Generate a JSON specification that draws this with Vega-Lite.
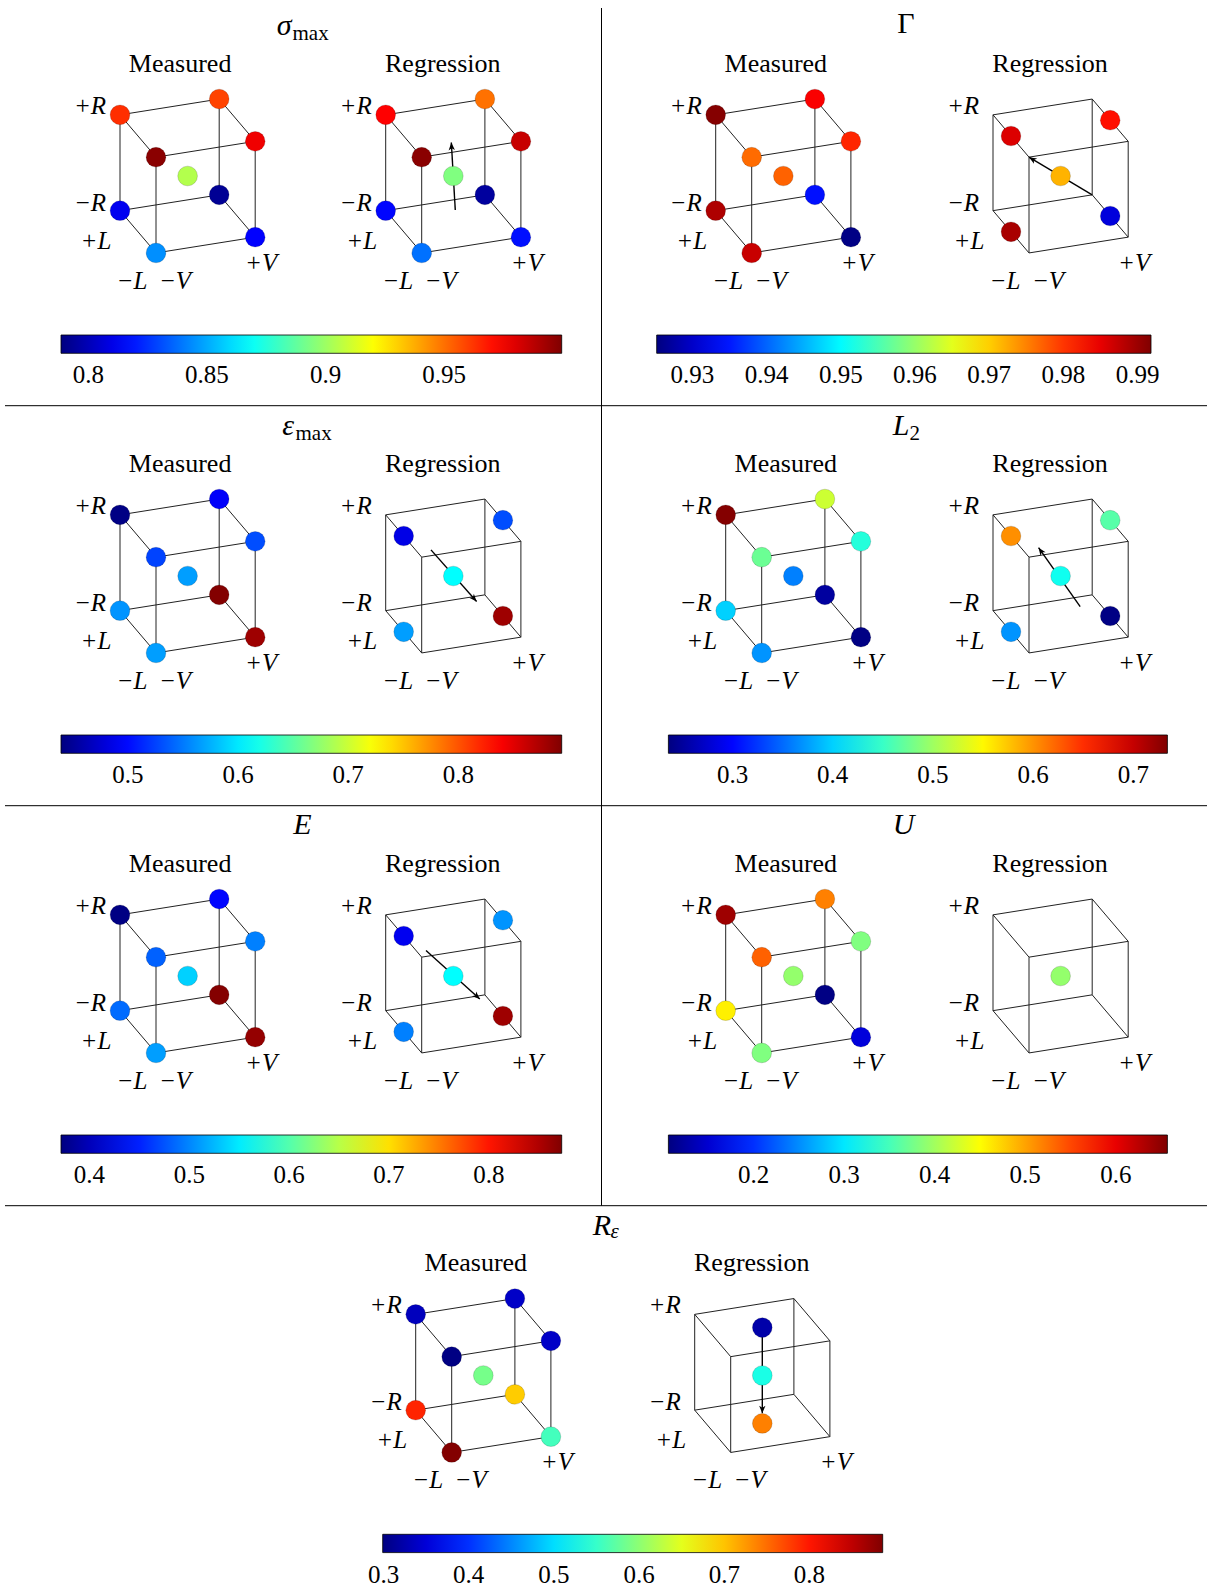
{
  "$schema": "https://vega.github.io/schema/vega-lite/v6.json",
  "background": "white",
  "padding": 0,
  "spacing": 0,
  "bounds": "flush",
  "config": {
    "view": {"stroke": null},
    "concat": {"spacing": 0},
    "legend": {
      "orient": "none",
      "direction": "horizontal",
      "gradientThickness": 18.3,
      "gradientStrokeColor": "#000",
      "gradientStrokeWidth": 0.8,
      "gradientHorizontalMaxLength": 800,
      "gradientHorizontalMinLength": 10,
      "labelFont": "Liberation Serif",
      "labelFontSize": 25,
      "labelColor": "#000",
      "labelOffset": 10,
      "labelOverlap": false,
      "labelAlign": "center",
      "padding": 0
    }
  },
  "datasets": {
    "edges": [
      {"cube": "Measured", "l0": -1, "v0": -1, "r0": -1, "l1": 1, "v1": -1, "r1": -1},
      {"cube": "Measured", "l0": -1, "v0": 1, "r0": -1, "l1": 1, "v1": 1, "r1": -1},
      {"cube": "Measured", "l0": -1, "v0": -1, "r0": 1, "l1": 1, "v1": -1, "r1": 1},
      {"cube": "Measured", "l0": -1, "v0": 1, "r0": 1, "l1": 1, "v1": 1, "r1": 1},
      {"cube": "Measured", "l0": -1, "v0": -1, "r0": -1, "l1": -1, "v1": 1, "r1": -1},
      {"cube": "Measured", "l0": 1, "v0": -1, "r0": -1, "l1": 1, "v1": 1, "r1": -1},
      {"cube": "Measured", "l0": -1, "v0": -1, "r0": 1, "l1": -1, "v1": 1, "r1": 1},
      {"cube": "Measured", "l0": 1, "v0": -1, "r0": 1, "l1": 1, "v1": 1, "r1": 1},
      {"cube": "Measured", "l0": -1, "v0": -1, "r0": -1, "l1": -1, "v1": -1, "r1": 1},
      {"cube": "Measured", "l0": -1, "v0": 1, "r0": -1, "l1": -1, "v1": 1, "r1": 1},
      {"cube": "Measured", "l0": 1, "v0": -1, "r0": -1, "l1": 1, "v1": -1, "r1": 1},
      {"cube": "Measured", "l0": 1, "v0": 1, "r0": -1, "l1": 1, "v1": 1, "r1": 1},
      {"cube": "Regression", "l0": -1, "v0": -1, "r0": -1, "l1": 1, "v1": -1, "r1": -1},
      {"cube": "Regression", "l0": -1, "v0": 1, "r0": -1, "l1": 1, "v1": 1, "r1": -1},
      {"cube": "Regression", "l0": -1, "v0": -1, "r0": 1, "l1": 1, "v1": -1, "r1": 1},
      {"cube": "Regression", "l0": -1, "v0": 1, "r0": 1, "l1": 1, "v1": 1, "r1": 1},
      {"cube": "Regression", "l0": -1, "v0": -1, "r0": -1, "l1": -1, "v1": 1, "r1": -1},
      {"cube": "Regression", "l0": 1, "v0": -1, "r0": -1, "l1": 1, "v1": 1, "r1": -1},
      {"cube": "Regression", "l0": -1, "v0": -1, "r0": 1, "l1": -1, "v1": 1, "r1": 1},
      {"cube": "Regression", "l0": 1, "v0": -1, "r0": 1, "l1": 1, "v1": 1, "r1": 1},
      {"cube": "Regression", "l0": -1, "v0": -1, "r0": -1, "l1": -1, "v1": -1, "r1": 1},
      {"cube": "Regression", "l0": -1, "v0": 1, "r0": -1, "l1": -1, "v1": 1, "r1": 1},
      {"cube": "Regression", "l0": 1, "v0": -1, "r0": -1, "l1": 1, "v1": -1, "r1": 1},
      {"cube": "Regression", "l0": 1, "v0": 1, "r0": -1, "l1": 1, "v1": 1, "r1": 1}
    ],
    "labels": [
      {"cube": "Measured", "text": "+R", "l": 1, "v": -1.605, "r": 1.288},
      {"cube": "Measured", "text": "−R", "l": 1, "v": -1.605, "r": -0.733},
      {"cube": "Measured", "text": "+L", "l": 1, "v": -1.484, "r": -1.547},
      {"cube": "Measured", "text": "−L", "l": -1, "v": -1.484, "r": -1.505},
      {"cube": "Measured", "text": "−V", "l": -1, "v": -0.617, "r": -1.648},
      {"cube": "Measured", "text": "+V", "l": -1, "v": 1.121, "r": -1.552},
      {"cube": "Regression", "text": "+R", "l": 1, "v": -1.605, "r": 1.288},
      {"cube": "Regression", "text": "−R", "l": 1, "v": -1.605, "r": -0.733},
      {"cube": "Regression", "text": "+L", "l": 1, "v": -1.484, "r": -1.547},
      {"cube": "Regression", "text": "−L", "l": -1, "v": -1.484, "r": -1.505},
      {"cube": "Regression", "text": "−V", "l": -1, "v": -0.617, "r": -1.648},
      {"cube": "Regression", "text": "+V", "l": -1, "v": 1.121, "r": -1.552}
    ],
    "subtitles": [
      {"cube": "Measured", "text": "Measured", "l": 0, "v": -0.151, "r": 2.203},
      {"cube": "Regression", "text": "Regression", "l": 0, "v": -0.212, "r": 2.212}
    ],
    "points": [
      {"panel": "smax", "cube": "Measured", "l": 1, "v": -1, "r": 1, "value": 0.9636},
      {"panel": "smax", "cube": "Measured", "l": 1, "v": 1, "r": 1, "value": 0.9594},
      {"panel": "smax", "cube": "Measured", "l": -1, "v": 1, "r": 1, "value": 0.9763},
      {"panel": "smax", "cube": "Measured", "l": -1, "v": -1, "r": 1, "value": 0.9974},
      {"panel": "smax", "cube": "Measured", "l": 0, "v": 0, "r": 0, "value": 0.9046},
      {"panel": "smax", "cube": "Measured", "l": 1, "v": -1, "r": -1, "value": 0.8117},
      {"panel": "smax", "cube": "Measured", "l": 1, "v": 1, "r": -1, "value": 0.7927},
      {"panel": "smax", "cube": "Measured", "l": -1, "v": 1, "r": -1, "value": 0.8149},
      {"panel": "smax", "cube": "Measured", "l": -1, "v": -1, "r": -1, "value": 0.8444},
      {"panel": "smax", "cube": "Regression", "l": 1, "v": -1, "r": 1, "value": 0.9731},
      {"panel": "smax", "cube": "Regression", "l": 1, "v": 1, "r": 1, "value": 0.9499},
      {"panel": "smax", "cube": "Regression", "l": -1, "v": 1, "r": 1, "value": 0.9847},
      {"panel": "smax", "cube": "Regression", "l": -1, "v": -1, "r": 1, "value": 0.9974},
      {"panel": "smax", "cube": "Regression", "l": 0, "v": 0, "r": 0, "value": 0.894},
      {"panel": "smax", "cube": "Regression", "l": 1, "v": -1, "r": -1, "value": 0.8159},
      {"panel": "smax", "cube": "Regression", "l": 1, "v": 1, "r": -1, "value": 0.7948},
      {"panel": "smax", "cube": "Regression", "l": -1, "v": 1, "r": -1, "value": 0.818},
      {"panel": "smax", "cube": "Regression", "l": -1, "v": -1, "r": -1, "value": 0.8381},

      {"panel": "gamma", "cube": "Measured", "l": 1, "v": -1, "r": 1, "value": 0.9915},
      {"panel": "gamma", "cube": "Measured", "l": 1, "v": 1, "r": 1, "value": 0.9838},
      {"panel": "gamma", "cube": "Measured", "l": -1, "v": 1, "r": 1, "value": 0.9811},
      {"panel": "gamma", "cube": "Measured", "l": -1, "v": -1, "r": 1, "value": 0.9765},
      {"panel": "gamma", "cube": "Measured", "l": 0, "v": 0, "r": 0, "value": 0.9771},
      {"panel": "gamma", "cube": "Measured", "l": 1, "v": -1, "r": -1, "value": 0.9888},
      {"panel": "gamma", "cube": "Measured", "l": 1, "v": 1, "r": -1, "value": 0.9345},
      {"panel": "gamma", "cube": "Measured", "l": -1, "v": 1, "r": -1, "value": 0.9255},
      {"panel": "gamma", "cube": "Measured", "l": -1, "v": -1, "r": -1, "value": 0.9871},
      {"panel": "gamma", "cube": "Regression", "l": 0, "v": -1, "r": 1, "value": 0.9858},
      {"panel": "gamma", "cube": "Regression", "l": 0, "v": 1, "r": 1, "value": 0.9825},
      {"panel": "gamma", "cube": "Regression", "l": 0, "v": 0, "r": 0, "value": 0.9718},
      {"panel": "gamma", "cube": "Regression", "l": 0, "v": 1, "r": -1, "value": 0.9312},
      {"panel": "gamma", "cube": "Regression", "l": 0, "v": -1, "r": -1, "value": 0.9891},

      {"panel": "emax", "cube": "Measured", "l": 1, "v": -1, "r": 1, "value": 0.441},
      {"panel": "emax", "cube": "Measured", "l": 1, "v": 1, "r": 1, "value": 0.4939},
      {"panel": "emax", "cube": "Measured", "l": -1, "v": 1, "r": 1, "value": 0.5303},
      {"panel": "emax", "cube": "Measured", "l": -1, "v": -1, "r": 1, "value": 0.5257},
      {"panel": "emax", "cube": "Measured", "l": 0, "v": 0, "r": 0, "value": 0.5666},
      {"panel": "emax", "cube": "Measured", "l": 1, "v": -1, "r": -1, "value": 0.562},
      {"panel": "emax", "cube": "Measured", "l": 1, "v": 1, "r": -1, "value": 0.8925},
      {"panel": "emax", "cube": "Measured", "l": -1, "v": 1, "r": -1, "value": 0.8801},
      {"panel": "emax", "cube": "Measured", "l": -1, "v": -1, "r": -1, "value": 0.5666},
      {"panel": "emax", "cube": "Regression", "l": 0, "v": -1, "r": 1, "value": 0.4848},
      {"panel": "emax", "cube": "Regression", "l": 0, "v": 1, "r": 1, "value": 0.5303},
      {"panel": "emax", "cube": "Regression", "l": 0, "v": 0, "r": 0, "value": 0.6098},
      {"panel": "emax", "cube": "Regression", "l": 0, "v": 1, "r": -1, "value": 0.8801},
      {"panel": "emax", "cube": "Regression", "l": 0, "v": -1, "r": -1, "value": 0.5666},

      {"panel": "l2", "cube": "Measured", "l": 1, "v": -1, "r": 1, "value": 0.732},
      {"panel": "l2", "cube": "Measured", "l": 1, "v": 1, "r": 1, "value": 0.5224},
      {"panel": "l2", "cube": "Measured", "l": -1, "v": 1, "r": 1, "value": 0.4402},
      {"panel": "l2", "cube": "Measured", "l": -1, "v": -1, "r": 1, "value": 0.475},
      {"panel": "l2", "cube": "Measured", "l": 0, "v": 0, "r": 0, "value": 0.3605},
      {"panel": "l2", "cube": "Measured", "l": 1, "v": -1, "r": -1, "value": 0.4003},
      {"panel": "l2", "cube": "Measured", "l": 1, "v": 1, "r": -1, "value": 0.251},
      {"panel": "l2", "cube": "Measured", "l": -1, "v": 1, "r": -1, "value": 0.238},
      {"panel": "l2", "cube": "Measured", "l": -1, "v": -1, "r": -1, "value": 0.3705},
      {"panel": "l2", "cube": "Regression", "l": 0, "v": -1, "r": 1, "value": 0.602},
      {"panel": "l2", "cube": "Regression", "l": 0, "v": 1, "r": 1, "value": 0.465},
      {"panel": "l2", "cube": "Regression", "l": 0, "v": 0, "r": 0, "value": 0.4302},
      {"panel": "l2", "cube": "Regression", "l": 0, "v": 1, "r": -1, "value": 0.238},
      {"panel": "l2", "cube": "Regression", "l": 0, "v": -1, "r": -1, "value": 0.3705},

      {"panel": "e", "cube": "Measured", "l": 1, "v": -1, "r": 1, "value": 0.373},
      {"panel": "e", "cube": "Measured", "l": 1, "v": 1, "r": 1, "value": 0.4367},
      {"panel": "e", "cube": "Measured", "l": -1, "v": 1, "r": 1, "value": 0.4969},
      {"panel": "e", "cube": "Measured", "l": -1, "v": -1, "r": 1, "value": 0.4818},
      {"panel": "e", "cube": "Measured", "l": 0, "v": 0, "r": 0, "value": 0.537},
      {"panel": "e", "cube": "Measured", "l": 1, "v": -1, "r": -1, "value": 0.4868},
      {"panel": "e", "cube": "Measured", "l": 1, "v": 1, "r": -1, "value": 0.871},
      {"panel": "e", "cube": "Measured", "l": -1, "v": 1, "r": -1, "value": 0.863},
      {"panel": "e", "cube": "Measured", "l": -1, "v": -1, "r": -1, "value": 0.5119},
      {"panel": "e", "cube": "Regression", "l": 0, "v": -1, "r": 1, "value": 0.4267},
      {"panel": "e", "cube": "Regression", "l": 0, "v": 1, "r": 1, "value": 0.5069},
      {"panel": "e", "cube": "Regression", "l": 0, "v": 0, "r": 0, "value": 0.5596},
      {"panel": "e", "cube": "Regression", "l": 0, "v": 1, "r": -1, "value": 0.858},
      {"panel": "e", "cube": "Regression", "l": 0, "v": -1, "r": -1, "value": 0.4969},

      {"panel": "u", "cube": "Measured", "l": 1, "v": -1, "r": 1, "value": 0.6405},
      {"panel": "u", "cube": "Measured", "l": 1, "v": 1, "r": 1, "value": 0.5193},
      {"panel": "u", "cube": "Measured", "l": -1, "v": 1, "r": 1, "value": 0.3815},
      {"panel": "u", "cube": "Measured", "l": -1, "v": -1, "r": 1, "value": 0.5358},
      {"panel": "u", "cube": "Measured", "l": 0, "v": 0, "r": 0, "value": 0.3925},
      {"panel": "u", "cube": "Measured", "l": 1, "v": -1, "r": -1, "value": 0.4586},
      {"panel": "u", "cube": "Measured", "l": 1, "v": 1, "r": -1, "value": 0.108},
      {"panel": "u", "cube": "Measured", "l": -1, "v": 1, "r": -1, "value": 0.1556},
      {"panel": "u", "cube": "Measured", "l": -1, "v": -1, "r": -1, "value": 0.3815},
      {"panel": "u", "cube": "Regression", "l": 0, "v": 0, "r": 0, "value": 0.3925},

      {"panel": "reps", "cube": "Measured", "l": 1, "v": -1, "r": 1, "value": 0.3342},
      {"panel": "reps", "cube": "Measured", "l": 1, "v": 1, "r": 1, "value": 0.3401},
      {"panel": "reps", "cube": "Measured", "l": -1, "v": 1, "r": 1, "value": 0.3401},
      {"panel": "reps", "cube": "Measured", "l": -1, "v": -1, "r": 1, "value": 0.301},
      {"panel": "reps", "cube": "Measured", "l": 0, "v": 0, "r": 0, "value": 0.5866},
      {"panel": "reps", "cube": "Measured", "l": 1, "v": -1, "r": -1, "value": 0.7921},
      {"panel": "reps", "cube": "Measured", "l": 1, "v": 1, "r": -1, "value": 0.6952},
      {"panel": "reps", "cube": "Measured", "l": -1, "v": 1, "r": -1, "value": 0.5573},
      {"panel": "reps", "cube": "Measured", "l": -1, "v": -1, "r": -1, "value": 0.884},
      {"panel": "reps", "cube": "Regression", "l": 0, "v": 0, "r": 1, "value": 0.3225},
      {"panel": "reps", "cube": "Regression", "l": 0, "v": 0, "r": 0, "value": 0.5338},
      {"panel": "reps", "cube": "Regression", "l": 0, "v": 0, "r": -1, "value": 0.7393}
    ],
    "arrows": [
      {"panel": "smax", "l0": -0.11, "v0": 0, "r0": -0.66, "l1": 0.11, "v1": 0, "r1": 0.65},
      {"panel": "gamma", "l0": 1, "v0": 1, "r0": -1, "l1": -1, "v1": -1, "r1": 1},
      {"panel": "emax", "l0": 0, "v0": -0.45, "r0": 0.62, "l1": 0, "v1": 0.47, "r1": -0.61},
      {"panel": "l2", "l0": 0, "v0": 0.395, "r0": -0.704, "l1": 0, "v1": -0.444, "r1": 0.664},
      {"panel": "e", "l0": 0, "v0": -0.55, "r0": 0.625, "l1": 0, "v1": 0.534, "r1": -0.57},
      {"panel": "reps", "l0": 0, "v0": 0, "r0": 0.97, "l1": 0, "v1": 0, "r1": -0.79}
    ]
  },
  "resolve": {"scale": {"color": "independent"}, "legend": {"color": "independent"}},
  "vconcat": [
    {
      "width": 1207, "height": 400,
      "resolve": {"scale": {"color": "independent"}, "legend": {"color": "independent"}},
      "layer": [
        {"data": {"values": [{}]}, "mark": {"type": "rule", "stroke": "#000", "strokeWidth": 1},
         "encoding": {"x": {"datum": 601.5, "type": "quantitative", "scale": {"domain": [0, 1207], "nice": false, "zero": false}, "axis": null},
                      "y": {"datum": 8, "type": "quantitative", "scale": {"domain": [0, 400], "nice": false, "zero": false, "reverse": true}, "axis": null},
                      "y2": {"datum": 400}}},
        {"layer": [
          {"data": {"name": "edges"},
           "transform": [
             {"calculate": "(datum.cube === 'Measured' ? 187.6 : 453.3) + 49.6*datum.v0 - 18*datum.l0", "as": "x"},
             {"calculate": "176 - 7.9*datum.v0 - 21.15*datum.l0 - 47.9*datum.r0", "as": "y"},
             {"calculate": "(datum.cube === 'Measured' ? 187.6 : 453.3) + 49.6*datum.v1 - 18*datum.l1", "as": "x2"},
             {"calculate": "176 - 7.9*datum.v1 - 21.15*datum.l1 - 47.9*datum.r1", "as": "y2"}],
           "mark": {"type": "rule", "stroke": "#222", "strokeWidth": 1},
           "encoding": {"x": {"field": "x", "type": "quantitative", "scale": {"domain": [0, 1207], "nice": false, "zero": false}, "axis": null},
                        "y": {"field": "y", "type": "quantitative", "scale": {"domain": [0, 400], "nice": false, "zero": false, "reverse": true}, "axis": null},
                        "x2": {"field": "x2"}, "y2": {"field": "y2"}}},
          {"data": {"name": "arrows"},
           "transform": [
             {"filter": "datum.panel === 'smax'"},
             {"calculate": "453.3 + 49.6*datum.v0 - 18*datum.l0", "as": "x"},
             {"calculate": "176 - 7.9*datum.v0 - 21.15*datum.l0 - 47.9*datum.r0", "as": "y"},
             {"calculate": "453.3 + 49.6*datum.v1 - 18*datum.l1", "as": "x2"},
             {"calculate": "176 - 7.9*datum.v1 - 21.15*datum.l1 - 47.9*datum.r1", "as": "y2"},
             {"calculate": "atan2(datum.x2 - datum.x, datum.y - datum.y2) * 180 / PI", "as": "ang"}],
           "layer": [
             {"mark": {"type": "rule", "stroke": "#000", "strokeWidth": 1.4},
              "encoding": {"x": {"field": "x", "type": "quantitative", "scale": {"domain": [0, 1207], "nice": false, "zero": false}, "axis": null},
                           "y": {"field": "y", "type": "quantitative", "scale": {"domain": [0, 400], "nice": false, "zero": false, "reverse": true}, "axis": null},
                           "x2": {"field": "x2"}, "y2": {"field": "y2"}}},
             {"mark": {"type": "point", "shape": "M0,0 L0.9,2.2 L0,1.6 L-0.9,2.2 Z", "filled": true, "color": "#000", "opacity": 1, "size": 49},
              "encoding": {"x": {"field": "x2", "type": "quantitative", "scale": {"domain": [0, 1207], "nice": false, "zero": false}, "axis": null},
                           "y": {"field": "y2", "type": "quantitative", "scale": {"domain": [0, 400], "nice": false, "zero": false, "reverse": true}, "axis": null},
                           "angle": {"field": "ang", "type": "quantitative", "scale": null}}}
           ]},
          {"data": {"name": "points"},
           "transform": [
             {"filter": "datum.panel === 'smax'"},
             {"calculate": "(datum.cube === 'Measured' ? 187.6 : 453.3) + 49.6*datum.v - 18*datum.l", "as": "x"},
             {"calculate": "176 - 7.9*datum.v - 21.15*datum.l - 47.9*datum.r", "as": "y"}],
           "mark": {"type": "circle", "size": 390, "opacity": 1, "stroke": "#000", "strokeOpacity": 0.2, "strokeWidth": 0.8},
           "encoding": {"x": {"field": "x", "type": "quantitative", "scale": {"domain": [0, 1207], "nice": false, "zero": false}, "axis": null},
                        "y": {"field": "y", "type": "quantitative", "scale": {"domain": [0, 400], "nice": false, "zero": false, "reverse": true}, "axis": null},
                        "color": {"field": "value", "type": "quantitative",
                                  "scale": {"type": "linear", "domain": [0.7885, 0.814875, 0.84125, 0.867625, 0.894, 0.920375, 0.94675, 0.973125, 0.9995], "range": ["#000080", "#0000ff", "#0080ff", "#00ffff", "#80ff80", "#ffff00", "#ff8000", "#ff0000", "#800000"], "interpolate": "rgb"},
                                  "legend": {"title": null, "orient": "none", "direction": "horizontal", "legendX": 61, "legendY": 335, "gradientLength": 500.7, "gradientThickness": 18.3, "gradientStrokeColor": "#000", "gradientStrokeWidth": 0.8, "labelFont": "Liberation Serif", "labelFontSize": 25, "labelColor": "#000", "labelOffset": 10, "labelAlign": "center", "labelOverlap": false, "values": [0.8, 0.85, 0.9, 0.95], "format": "~g"}}}},
          {"data": {"name": "labels"},
           "transform": [
             {"calculate": "(datum.cube === 'Measured' ? 187.6 : 453.3) + 49.6*datum.v - 18*datum.l", "as": "x"},
             {"calculate": "176 - 7.9*datum.v - 21.15*datum.l - 47.9*datum.r", "as": "y"}],
           "mark": {"type": "text", "font": "Liberation Serif", "fontStyle": "italic", "fontSize": 25, "align": "center", "baseline": "middle", "color": "#000"},
           "encoding": {"x": {"field": "x", "type": "quantitative", "scale": {"domain": [0, 1207], "nice": false, "zero": false}, "axis": null},
                        "y": {"field": "y", "type": "quantitative", "scale": {"domain": [0, 400], "nice": false, "zero": false, "reverse": true}, "axis": null},
                        "text": {"field": "text"}}},
          {"data": {"name": "subtitles"},
           "transform": [
             {"calculate": "(datum.cube === 'Measured' ? 187.6 : 453.3) + 49.6*datum.v - 18*datum.l", "as": "x"},
             {"calculate": "176 - 7.9*datum.v - 21.15*datum.l - 47.9*datum.r", "as": "y"}],
           "mark": {"type": "text", "font": "Liberation Serif", "fontSize": 26, "align": "center", "baseline": "alphabetic", "color": "#000"},
           "encoding": {"x": {"field": "x", "type": "quantitative", "scale": {"domain": [0, 1207], "nice": false, "zero": false}, "axis": null},
                        "y": {"field": "y", "type": "quantitative", "scale": {"domain": [0, 400], "nice": false, "zero": false, "reverse": true}, "axis": null},
                        "text": {"field": "text"}}},
          {"data": {"values": [{"t": "σ"}]},
           "mark": {"type": "text", "font": "Liberation Serif", "fontStyle": "italic", "fontSize": 30, "align": "right", "baseline": "alphabetic", "color": "#000"},
           "encoding": {"x": {"datum": 291.5, "type": "quantitative", "scale": {"domain": [0, 1207], "nice": false, "zero": false}, "axis": null},
                        "y": {"datum": 35, "type": "quantitative", "scale": {"domain": [0, 400], "nice": false, "zero": false, "reverse": true}, "axis": null},
                        "text": {"field": "t"}}},
          {"data": {"values": [{"t": "max"}]},
           "mark": {"type": "text", "font": "Liberation Serif", "fontSize": 21, "align": "left", "baseline": "alphabetic", "color": "#000"},
           "encoding": {"x": {"datum": 292.5, "type": "quantitative", "scale": {"domain": [0, 1207], "nice": false, "zero": false}, "axis": null},
                        "y": {"datum": 39.5, "type": "quantitative", "scale": {"domain": [0, 400], "nice": false, "zero": false, "reverse": true}, "axis": null},
                        "text": {"field": "t"}}}
        ]},
        {"layer": [
          {"data": {"name": "edges"},
           "transform": [
             {"calculate": "(datum.cube === 'Measured' ? 783.3 : 1060.6) + 49.6*datum.v0 - 18*datum.l0", "as": "x"},
             {"calculate": "176 - 7.9*datum.v0 - 21.15*datum.l0 - 47.9*datum.r0", "as": "y"},
             {"calculate": "(datum.cube === 'Measured' ? 783.3 : 1060.6) + 49.6*datum.v1 - 18*datum.l1", "as": "x2"},
             {"calculate": "176 - 7.9*datum.v1 - 21.15*datum.l1 - 47.9*datum.r1", "as": "y2"}],
           "mark": {"type": "rule", "stroke": "#222", "strokeWidth": 1},
           "encoding": {"x": {"field": "x", "type": "quantitative", "scale": {"domain": [0, 1207], "nice": false, "zero": false}, "axis": null},
                        "y": {"field": "y", "type": "quantitative", "scale": {"domain": [0, 400], "nice": false, "zero": false, "reverse": true}, "axis": null},
                        "x2": {"field": "x2"}, "y2": {"field": "y2"}}},
          {"data": {"name": "arrows"},
           "transform": [
             {"filter": "datum.panel === 'gamma'"},
             {"calculate": "1060.6 + 49.6*datum.v0 - 18*datum.l0", "as": "x"},
             {"calculate": "176 - 7.9*datum.v0 - 21.15*datum.l0 - 47.9*datum.r0", "as": "y"},
             {"calculate": "1060.6 + 49.6*datum.v1 - 18*datum.l1", "as": "x2"},
             {"calculate": "176 - 7.9*datum.v1 - 21.15*datum.l1 - 47.9*datum.r1", "as": "y2"},
             {"calculate": "atan2(datum.x2 - datum.x, datum.y - datum.y2) * 180 / PI", "as": "ang"}],
           "layer": [
             {"mark": {"type": "rule", "stroke": "#000", "strokeWidth": 1.4},
              "encoding": {"x": {"field": "x", "type": "quantitative", "scale": {"domain": [0, 1207], "nice": false, "zero": false}, "axis": null},
                           "y": {"field": "y", "type": "quantitative", "scale": {"domain": [0, 400], "nice": false, "zero": false, "reverse": true}, "axis": null},
                           "x2": {"field": "x2"}, "y2": {"field": "y2"}}},
             {"mark": {"type": "point", "shape": "M0,0 L0.9,2.2 L0,1.6 L-0.9,2.2 Z", "filled": true, "color": "#000", "opacity": 1, "size": 49},
              "encoding": {"x": {"field": "x2", "type": "quantitative", "scale": {"domain": [0, 1207], "nice": false, "zero": false}, "axis": null},
                           "y": {"field": "y2", "type": "quantitative", "scale": {"domain": [0, 400], "nice": false, "zero": false, "reverse": true}, "axis": null},
                           "angle": {"field": "ang", "type": "quantitative", "scale": null}}}
           ]},
          {"data": {"name": "points"},
           "transform": [
             {"filter": "datum.panel === 'gamma'"},
             {"calculate": "(datum.cube === 'Measured' ? 783.3 : 1060.6) + 49.6*datum.v - 18*datum.l", "as": "x"},
             {"calculate": "176 - 7.9*datum.v - 21.15*datum.l - 47.9*datum.r", "as": "y"}],
           "mark": {"type": "circle", "size": 390, "opacity": 1, "stroke": "#000", "strokeOpacity": 0.2, "strokeWidth": 0.8},
           "encoding": {"x": {"field": "x", "type": "quantitative", "scale": {"domain": [0, 1207], "nice": false, "zero": false}, "axis": null},
                        "y": {"field": "y", "type": "quantitative", "scale": {"domain": [0, 400], "nice": false, "zero": false, "reverse": true}, "axis": null},
                        "color": {"field": "value", "type": "quantitative",
                                  "scale": {"type": "linear", "domain": [0.9252, 0.933525, 0.94185, 0.950175, 0.9585, 0.966825, 0.97515, 0.983475, 0.9918], "range": ["#000080", "#0000ff", "#0080ff", "#00ffff", "#80ff80", "#ffff00", "#ff8000", "#ff0000", "#800000"], "interpolate": "rgb"},
                                  "legend": {"title": null, "orient": "none", "direction": "horizontal", "legendX": 656.7, "legendY": 335, "gradientLength": 494.3, "gradientThickness": 18.3, "gradientStrokeColor": "#000", "gradientStrokeWidth": 0.8, "labelFont": "Liberation Serif", "labelFontSize": 25, "labelColor": "#000", "labelOffset": 10, "labelAlign": "center", "labelOverlap": false, "values": [0.93, 0.94, 0.95, 0.96, 0.97, 0.98, 0.99], "format": "~g"}}}},
          {"data": {"name": "labels"},
           "transform": [
             {"calculate": "(datum.cube === 'Measured' ? 783.3 : 1060.6) + 49.6*datum.v - 18*datum.l", "as": "x"},
             {"calculate": "176 - 7.9*datum.v - 21.15*datum.l - 47.9*datum.r", "as": "y"}],
           "mark": {"type": "text", "font": "Liberation Serif", "fontStyle": "italic", "fontSize": 25, "align": "center", "baseline": "middle", "color": "#000"},
           "encoding": {"x": {"field": "x", "type": "quantitative", "scale": {"domain": [0, 1207], "nice": false, "zero": false}, "axis": null},
                        "y": {"field": "y", "type": "quantitative", "scale": {"domain": [0, 400], "nice": false, "zero": false, "reverse": true}, "axis": null},
                        "text": {"field": "text"}}},
          {"data": {"name": "subtitles"},
           "transform": [
             {"calculate": "(datum.cube === 'Measured' ? 783.3 : 1060.6) + 49.6*datum.v - 18*datum.l", "as": "x"},
             {"calculate": "176 - 7.9*datum.v - 21.15*datum.l - 47.9*datum.r", "as": "y"}],
           "mark": {"type": "text", "font": "Liberation Serif", "fontSize": 26, "align": "center", "baseline": "alphabetic", "color": "#000"},
           "encoding": {"x": {"field": "x", "type": "quantitative", "scale": {"domain": [0, 1207], "nice": false, "zero": false}, "axis": null},
                        "y": {"field": "y", "type": "quantitative", "scale": {"domain": [0, 400], "nice": false, "zero": false, "reverse": true}, "axis": null},
                        "text": {"field": "text"}}},
          {"data": {"values": [{"t": "Γ"}]},
           "mark": {"type": "text", "font": "Liberation Serif", "fontSize": 30, "align": "center", "baseline": "alphabetic", "color": "#000"},
           "encoding": {"x": {"datum": 905.8, "type": "quantitative", "scale": {"domain": [0, 1207], "nice": false, "zero": false}, "axis": null},
                        "y": {"datum": 33, "type": "quantitative", "scale": {"domain": [0, 400], "nice": false, "zero": false, "reverse": true}, "axis": null},
                        "text": {"field": "t"}}}
        ]}
      ]
    },
    {
      "width": 1207, "height": 400,
      "resolve": {"scale": {"color": "independent"}, "legend": {"color": "independent"}},
      "layer": [
        {"data": {"values": [{}]}, "mark": {"type": "rule", "stroke": "#000", "strokeWidth": 1},
         "encoding": {"x": {"datum": 601.5, "type": "quantitative", "scale": {"domain": [0, 1207], "nice": false, "zero": false}, "axis": null},
                      "y": {"datum": 0, "type": "quantitative", "scale": {"domain": [0, 400], "nice": false, "zero": false, "reverse": true}, "axis": null},
                      "y2": {"datum": 400}}},
        {"data": {"values": [{}]}, "mark": {"type": "rule", "stroke": "#000", "strokeWidth": 1},
         "encoding": {"x": {"datum": 5, "type": "quantitative", "scale": {"domain": [0, 1207], "nice": false, "zero": false}, "axis": null},
                      "x2": {"datum": 1207},
                      "y": {"datum": 5.7, "type": "quantitative", "scale": {"domain": [0, 400], "nice": false, "zero": false, "reverse": true}, "axis": null}}},
        {"layer": [
          {"data": {"name": "edges"},
           "transform": [
             {"calculate": "(datum.cube === 'Measured' ? 187.6 : 453.3) + 49.6*datum.v0 - 18*datum.l0", "as": "x"},
             {"calculate": "176 - 7.9*datum.v0 - 21.15*datum.l0 - 47.9*datum.r0", "as": "y"},
             {"calculate": "(datum.cube === 'Measured' ? 187.6 : 453.3) + 49.6*datum.v1 - 18*datum.l1", "as": "x2"},
             {"calculate": "176 - 7.9*datum.v1 - 21.15*datum.l1 - 47.9*datum.r1", "as": "y2"}],
           "mark": {"type": "rule", "stroke": "#222", "strokeWidth": 1},
           "encoding": {"x": {"field": "x", "type": "quantitative", "scale": {"domain": [0, 1207], "nice": false, "zero": false}, "axis": null},
                        "y": {"field": "y", "type": "quantitative", "scale": {"domain": [0, 400], "nice": false, "zero": false, "reverse": true}, "axis": null},
                        "x2": {"field": "x2"}, "y2": {"field": "y2"}}},
          {"data": {"name": "arrows"},
           "transform": [
             {"filter": "datum.panel === 'emax'"},
             {"calculate": "453.3 + 49.6*datum.v0 - 18*datum.l0", "as": "x"},
             {"calculate": "176 - 7.9*datum.v0 - 21.15*datum.l0 - 47.9*datum.r0", "as": "y"},
             {"calculate": "453.3 + 49.6*datum.v1 - 18*datum.l1", "as": "x2"},
             {"calculate": "176 - 7.9*datum.v1 - 21.15*datum.l1 - 47.9*datum.r1", "as": "y2"},
             {"calculate": "atan2(datum.x2 - datum.x, datum.y - datum.y2) * 180 / PI", "as": "ang"}],
           "layer": [
             {"mark": {"type": "rule", "stroke": "#000", "strokeWidth": 1.4},
              "encoding": {"x": {"field": "x", "type": "quantitative", "scale": {"domain": [0, 1207], "nice": false, "zero": false}, "axis": null},
                           "y": {"field": "y", "type": "quantitative", "scale": {"domain": [0, 400], "nice": false, "zero": false, "reverse": true}, "axis": null},
                           "x2": {"field": "x2"}, "y2": {"field": "y2"}}},
             {"mark": {"type": "point", "shape": "M0,0 L0.9,2.2 L0,1.6 L-0.9,2.2 Z", "filled": true, "color": "#000", "opacity": 1, "size": 49},
              "encoding": {"x": {"field": "x2", "type": "quantitative", "scale": {"domain": [0, 1207], "nice": false, "zero": false}, "axis": null},
                           "y": {"field": "y2", "type": "quantitative", "scale": {"domain": [0, 400], "nice": false, "zero": false, "reverse": true}, "axis": null},
                           "angle": {"field": "ang", "type": "quantitative", "scale": null}}}
           ]},
          {"data": {"name": "points"},
           "transform": [
             {"filter": "datum.panel === 'emax'"},
             {"calculate": "(datum.cube === 'Measured' ? 187.6 : 453.3) + 49.6*datum.v - 18*datum.l", "as": "x"},
             {"calculate": "176 - 7.9*datum.v - 21.15*datum.l - 47.9*datum.r", "as": "y"}],
           "mark": {"type": "circle", "size": 390, "opacity": 1, "stroke": "#000", "strokeOpacity": 0.2, "strokeWidth": 0.8},
           "encoding": {"x": {"field": "x", "type": "quantitative", "scale": {"domain": [0, 1207], "nice": false, "zero": false}, "axis": null},
                        "y": {"field": "y", "type": "quantitative", "scale": {"domain": [0, 400], "nice": false, "zero": false, "reverse": true}, "axis": null},
                        "color": {"field": "value", "type": "quantitative",
                                  "scale": {"type": "linear", "domain": [0.4394, 0.4961875, 0.552975, 0.6097625, 0.66655, 0.7233375, 0.780125, 0.8369125, 0.8937], "range": ["#000080", "#0000ff", "#0080ff", "#00ffff", "#80ff80", "#ffff00", "#ff8000", "#ff0000", "#800000"], "interpolate": "rgb"},
                                  "legend": {"title": null, "orient": "none", "direction": "horizontal", "legendX": 61, "legendY": 335, "gradientLength": 500.7, "gradientThickness": 18.3, "gradientStrokeColor": "#000", "gradientStrokeWidth": 0.8, "labelFont": "Liberation Serif", "labelFontSize": 25, "labelColor": "#000", "labelOffset": 10, "labelAlign": "center", "labelOverlap": false, "values": [0.5, 0.6, 0.7, 0.8], "format": "~g"}}}},
          {"data": {"name": "labels"},
           "transform": [
             {"calculate": "(datum.cube === 'Measured' ? 187.6 : 453.3) + 49.6*datum.v - 18*datum.l", "as": "x"},
             {"calculate": "176 - 7.9*datum.v - 21.15*datum.l - 47.9*datum.r", "as": "y"}],
           "mark": {"type": "text", "font": "Liberation Serif", "fontStyle": "italic", "fontSize": 25, "align": "center", "baseline": "middle", "color": "#000"},
           "encoding": {"x": {"field": "x", "type": "quantitative", "scale": {"domain": [0, 1207], "nice": false, "zero": false}, "axis": null},
                        "y": {"field": "y", "type": "quantitative", "scale": {"domain": [0, 400], "nice": false, "zero": false, "reverse": true}, "axis": null},
                        "text": {"field": "text"}}},
          {"data": {"name": "subtitles"},
           "transform": [
             {"calculate": "(datum.cube === 'Measured' ? 187.6 : 453.3) + 49.6*datum.v - 18*datum.l", "as": "x"},
             {"calculate": "176 - 7.9*datum.v - 21.15*datum.l - 47.9*datum.r", "as": "y"}],
           "mark": {"type": "text", "font": "Liberation Serif", "fontSize": 26, "align": "center", "baseline": "alphabetic", "color": "#000"},
           "encoding": {"x": {"field": "x", "type": "quantitative", "scale": {"domain": [0, 1207], "nice": false, "zero": false}, "axis": null},
                        "y": {"field": "y", "type": "quantitative", "scale": {"domain": [0, 400], "nice": false, "zero": false, "reverse": true}, "axis": null},
                        "text": {"field": "text"}}},
          {"data": {"values": [{"t": "ε"}]},
           "mark": {"type": "text", "font": "Liberation Serif", "fontStyle": "italic", "fontSize": 30, "align": "right", "baseline": "alphabetic", "color": "#000"},
           "encoding": {"x": {"datum": 294, "type": "quantitative", "scale": {"domain": [0, 1207], "nice": false, "zero": false}, "axis": null},
                        "y": {"datum": 35, "type": "quantitative", "scale": {"domain": [0, 400], "nice": false, "zero": false, "reverse": true}, "axis": null},
                        "text": {"field": "t"}}},
          {"data": {"values": [{"t": "max"}]},
           "mark": {"type": "text", "font": "Liberation Serif", "fontSize": 21, "align": "left", "baseline": "alphabetic", "color": "#000"},
           "encoding": {"x": {"datum": 295.5, "type": "quantitative", "scale": {"domain": [0, 1207], "nice": false, "zero": false}, "axis": null},
                        "y": {"datum": 39.5, "type": "quantitative", "scale": {"domain": [0, 400], "nice": false, "zero": false, "reverse": true}, "axis": null},
                        "text": {"field": "t"}}}
        ]},
        {"layer": [
          {"data": {"name": "edges"},
           "transform": [
             {"calculate": "(datum.cube === 'Measured' ? 793.3 : 1060.6) + 49.6*datum.v0 - 18*datum.l0", "as": "x"},
             {"calculate": "176 - 7.9*datum.v0 - 21.15*datum.l0 - 47.9*datum.r0", "as": "y"},
             {"calculate": "(datum.cube === 'Measured' ? 793.3 : 1060.6) + 49.6*datum.v1 - 18*datum.l1", "as": "x2"},
             {"calculate": "176 - 7.9*datum.v1 - 21.15*datum.l1 - 47.9*datum.r1", "as": "y2"}],
           "mark": {"type": "rule", "stroke": "#222", "strokeWidth": 1},
           "encoding": {"x": {"field": "x", "type": "quantitative", "scale": {"domain": [0, 1207], "nice": false, "zero": false}, "axis": null},
                        "y": {"field": "y", "type": "quantitative", "scale": {"domain": [0, 400], "nice": false, "zero": false, "reverse": true}, "axis": null},
                        "x2": {"field": "x2"}, "y2": {"field": "y2"}}},
          {"data": {"name": "arrows"},
           "transform": [
             {"filter": "datum.panel === 'l2'"},
             {"calculate": "1060.6 + 49.6*datum.v0 - 18*datum.l0", "as": "x"},
             {"calculate": "176 - 7.9*datum.v0 - 21.15*datum.l0 - 47.9*datum.r0", "as": "y"},
             {"calculate": "1060.6 + 49.6*datum.v1 - 18*datum.l1", "as": "x2"},
             {"calculate": "176 - 7.9*datum.v1 - 21.15*datum.l1 - 47.9*datum.r1", "as": "y2"},
             {"calculate": "atan2(datum.x2 - datum.x, datum.y - datum.y2) * 180 / PI", "as": "ang"}],
           "layer": [
             {"mark": {"type": "rule", "stroke": "#000", "strokeWidth": 1.4},
              "encoding": {"x": {"field": "x", "type": "quantitative", "scale": {"domain": [0, 1207], "nice": false, "zero": false}, "axis": null},
                           "y": {"field": "y", "type": "quantitative", "scale": {"domain": [0, 400], "nice": false, "zero": false, "reverse": true}, "axis": null},
                           "x2": {"field": "x2"}, "y2": {"field": "y2"}}},
             {"mark": {"type": "point", "shape": "M0,0 L0.9,2.2 L0,1.6 L-0.9,2.2 Z", "filled": true, "color": "#000", "opacity": 1, "size": 49},
              "encoding": {"x": {"field": "x2", "type": "quantitative", "scale": {"domain": [0, 1207], "nice": false, "zero": false}, "axis": null},
                           "y": {"field": "y2", "type": "quantitative", "scale": {"domain": [0, 400], "nice": false, "zero": false, "reverse": true}, "axis": null},
                           "angle": {"field": "ang", "type": "quantitative", "scale": null}}}
           ]},
          {"data": {"name": "points"},
           "transform": [
             {"filter": "datum.panel === 'l2'"},
             {"calculate": "(datum.cube === 'Measured' ? 793.3 : 1060.6) + 49.6*datum.v - 18*datum.l", "as": "x"},
             {"calculate": "176 - 7.9*datum.v - 21.15*datum.l - 47.9*datum.r", "as": "y"}],
           "mark": {"type": "circle", "size": 390, "opacity": 1, "stroke": "#000", "strokeOpacity": 0.2, "strokeWidth": 0.8},
           "encoding": {"x": {"field": "x", "type": "quantitative", "scale": {"domain": [0, 1207], "nice": false, "zero": false}, "axis": null},
                        "y": {"field": "y", "type": "quantitative", "scale": {"domain": [0, 400], "nice": false, "zero": false, "reverse": true}, "axis": null},
                        "color": {"field": "value", "type": "quantitative",
                                  "scale": {"type": "linear", "domain": [0.236, 0.29825, 0.3605, 0.42275, 0.485, 0.54725, 0.6095, 0.67175, 0.734], "range": ["#000080", "#0000ff", "#0080ff", "#00ffff", "#80ff80", "#ffff00", "#ff8000", "#ff0000", "#800000"], "interpolate": "rgb"},
                                  "legend": {"title": null, "orient": "none", "direction": "horizontal", "legendX": 668.4, "legendY": 335, "gradientLength": 499, "gradientThickness": 18.3, "gradientStrokeColor": "#000", "gradientStrokeWidth": 0.8, "labelFont": "Liberation Serif", "labelFontSize": 25, "labelColor": "#000", "labelOffset": 10, "labelAlign": "center", "labelOverlap": false, "values": [0.3, 0.4, 0.5, 0.6, 0.7], "format": "~g"}}}},
          {"data": {"name": "labels"},
           "transform": [
             {"calculate": "(datum.cube === 'Measured' ? 793.3 : 1060.6) + 49.6*datum.v - 18*datum.l", "as": "x"},
             {"calculate": "176 - 7.9*datum.v - 21.15*datum.l - 47.9*datum.r", "as": "y"}],
           "mark": {"type": "text", "font": "Liberation Serif", "fontStyle": "italic", "fontSize": 25, "align": "center", "baseline": "middle", "color": "#000"},
           "encoding": {"x": {"field": "x", "type": "quantitative", "scale": {"domain": [0, 1207], "nice": false, "zero": false}, "axis": null},
                        "y": {"field": "y", "type": "quantitative", "scale": {"domain": [0, 400], "nice": false, "zero": false, "reverse": true}, "axis": null},
                        "text": {"field": "text"}}},
          {"data": {"name": "subtitles"},
           "transform": [
             {"calculate": "(datum.cube === 'Measured' ? 793.3 : 1060.6) + 49.6*datum.v - 18*datum.l", "as": "x"},
             {"calculate": "176 - 7.9*datum.v - 21.15*datum.l - 47.9*datum.r", "as": "y"}],
           "mark": {"type": "text", "font": "Liberation Serif", "fontSize": 26, "align": "center", "baseline": "alphabetic", "color": "#000"},
           "encoding": {"x": {"field": "x", "type": "quantitative", "scale": {"domain": [0, 1207], "nice": false, "zero": false}, "axis": null},
                        "y": {"field": "y", "type": "quantitative", "scale": {"domain": [0, 400], "nice": false, "zero": false, "reverse": true}, "axis": null},
                        "text": {"field": "text"}}},
          {"data": {"values": [{"t": "L"}]},
           "mark": {"type": "text", "font": "Liberation Serif", "fontStyle": "italic", "fontSize": 30, "align": "right", "baseline": "alphabetic", "color": "#000"},
           "encoding": {"x": {"datum": 909.5, "type": "quantitative", "scale": {"domain": [0, 1207], "nice": false, "zero": false}, "axis": null},
                        "y": {"datum": 35, "type": "quantitative", "scale": {"domain": [0, 400], "nice": false, "zero": false, "reverse": true}, "axis": null},
                        "text": {"field": "t"}}},
          {"data": {"values": [{"t": "2"}]},
           "mark": {"type": "text", "font": "Liberation Serif", "fontSize": 21, "align": "left", "baseline": "alphabetic", "color": "#000"},
           "encoding": {"x": {"datum": 909.5, "type": "quantitative", "scale": {"domain": [0, 1207], "nice": false, "zero": false}, "axis": null},
                        "y": {"datum": 39.5, "type": "quantitative", "scale": {"domain": [0, 400], "nice": false, "zero": false, "reverse": true}, "axis": null},
                        "text": {"field": "t"}}}
        ]}
      ]
    },
    {
      "width": 1207, "height": 400,
      "resolve": {"scale": {"color": "independent"}, "legend": {"color": "independent"}},
      "layer": [
        {"data": {"values": [{}]}, "mark": {"type": "rule", "stroke": "#000", "strokeWidth": 1},
         "encoding": {"x": {"datum": 601.5, "type": "quantitative", "scale": {"domain": [0, 1207], "nice": false, "zero": false}, "axis": null},
                      "y": {"datum": 0, "type": "quantitative", "scale": {"domain": [0, 400], "nice": false, "zero": false, "reverse": true}, "axis": null},
                      "y2": {"datum": 400}}},
        {"data": {"values": [{}]}, "mark": {"type": "rule", "stroke": "#000", "strokeWidth": 1},
         "encoding": {"x": {"datum": 5, "type": "quantitative", "scale": {"domain": [0, 1207], "nice": false, "zero": false}, "axis": null},
                      "x2": {"datum": 1207},
                      "y": {"datum": 5.7, "type": "quantitative", "scale": {"domain": [0, 400], "nice": false, "zero": false, "reverse": true}, "axis": null}}},
        {"layer": [
          {"data": {"name": "edges"},
           "transform": [
             {"calculate": "(datum.cube === 'Measured' ? 187.6 : 453.3) + 49.6*datum.v0 - 18*datum.l0", "as": "x"},
             {"calculate": "176 - 7.9*datum.v0 - 21.15*datum.l0 - 47.9*datum.r0", "as": "y"},
             {"calculate": "(datum.cube === 'Measured' ? 187.6 : 453.3) + 49.6*datum.v1 - 18*datum.l1", "as": "x2"},
             {"calculate": "176 - 7.9*datum.v1 - 21.15*datum.l1 - 47.9*datum.r1", "as": "y2"}],
           "mark": {"type": "rule", "stroke": "#222", "strokeWidth": 1},
           "encoding": {"x": {"field": "x", "type": "quantitative", "scale": {"domain": [0, 1207], "nice": false, "zero": false}, "axis": null},
                        "y": {"field": "y", "type": "quantitative", "scale": {"domain": [0, 400], "nice": false, "zero": false, "reverse": true}, "axis": null},
                        "x2": {"field": "x2"}, "y2": {"field": "y2"}}},
          {"data": {"name": "arrows"},
           "transform": [
             {"filter": "datum.panel === 'e'"},
             {"calculate": "453.3 + 49.6*datum.v0 - 18*datum.l0", "as": "x"},
             {"calculate": "176 - 7.9*datum.v0 - 21.15*datum.l0 - 47.9*datum.r0", "as": "y"},
             {"calculate": "453.3 + 49.6*datum.v1 - 18*datum.l1", "as": "x2"},
             {"calculate": "176 - 7.9*datum.v1 - 21.15*datum.l1 - 47.9*datum.r1", "as": "y2"},
             {"calculate": "atan2(datum.x2 - datum.x, datum.y - datum.y2) * 180 / PI", "as": "ang"}],
           "layer": [
             {"mark": {"type": "rule", "stroke": "#000", "strokeWidth": 1.4},
              "encoding": {"x": {"field": "x", "type": "quantitative", "scale": {"domain": [0, 1207], "nice": false, "zero": false}, "axis": null},
                           "y": {"field": "y", "type": "quantitative", "scale": {"domain": [0, 400], "nice": false, "zero": false, "reverse": true}, "axis": null},
                           "x2": {"field": "x2"}, "y2": {"field": "y2"}}},
             {"mark": {"type": "point", "shape": "M0,0 L0.9,2.2 L0,1.6 L-0.9,2.2 Z", "filled": true, "color": "#000", "opacity": 1, "size": 49},
              "encoding": {"x": {"field": "x2", "type": "quantitative", "scale": {"domain": [0, 1207], "nice": false, "zero": false}, "axis": null},
                           "y": {"field": "y2", "type": "quantitative", "scale": {"domain": [0, 400], "nice": false, "zero": false, "reverse": true}, "axis": null},
                           "angle": {"field": "ang", "type": "quantitative", "scale": null}}}
           ]},
          {"data": {"name": "points"},
           "transform": [
             {"filter": "datum.panel === 'e'"},
             {"calculate": "(datum.cube === 'Measured' ? 187.6 : 453.3) + 49.6*datum.v - 18*datum.l", "as": "x"},
             {"calculate": "176 - 7.9*datum.v - 21.15*datum.l - 47.9*datum.r", "as": "y"}],
           "mark": {"type": "circle", "size": 390, "opacity": 1, "stroke": "#000", "strokeOpacity": 0.2, "strokeWidth": 0.8},
           "encoding": {"x": {"field": "x", "type": "quantitative", "scale": {"domain": [0, 1207], "nice": false, "zero": false}, "axis": null},
                        "y": {"field": "y", "type": "quantitative", "scale": {"domain": [0, 400], "nice": false, "zero": false, "reverse": true}, "axis": null},
                        "color": {"field": "value", "type": "quantitative",
                                  "scale": {"type": "linear", "domain": [0.3715, 0.4341875, 0.496875, 0.5595625, 0.62225, 0.6849375, 0.747625, 0.8103125, 0.873], "range": ["#000080", "#0000ff", "#0080ff", "#00ffff", "#80ff80", "#ffff00", "#ff8000", "#ff0000", "#800000"], "interpolate": "rgb"},
                                  "legend": {"title": null, "orient": "none", "direction": "horizontal", "legendX": 61, "legendY": 335, "gradientLength": 500.7, "gradientThickness": 18.3, "gradientStrokeColor": "#000", "gradientStrokeWidth": 0.8, "labelFont": "Liberation Serif", "labelFontSize": 25, "labelColor": "#000", "labelOffset": 10, "labelAlign": "center", "labelOverlap": false, "values": [0.4, 0.5, 0.6, 0.7, 0.8], "format": "~g"}}}},
          {"data": {"name": "labels"},
           "transform": [
             {"calculate": "(datum.cube === 'Measured' ? 187.6 : 453.3) + 49.6*datum.v - 18*datum.l", "as": "x"},
             {"calculate": "176 - 7.9*datum.v - 21.15*datum.l - 47.9*datum.r", "as": "y"}],
           "mark": {"type": "text", "font": "Liberation Serif", "fontStyle": "italic", "fontSize": 25, "align": "center", "baseline": "middle", "color": "#000"},
           "encoding": {"x": {"field": "x", "type": "quantitative", "scale": {"domain": [0, 1207], "nice": false, "zero": false}, "axis": null},
                        "y": {"field": "y", "type": "quantitative", "scale": {"domain": [0, 400], "nice": false, "zero": false, "reverse": true}, "axis": null},
                        "text": {"field": "text"}}},
          {"data": {"name": "subtitles"},
           "transform": [
             {"calculate": "(datum.cube === 'Measured' ? 187.6 : 453.3) + 49.6*datum.v - 18*datum.l", "as": "x"},
             {"calculate": "176 - 7.9*datum.v - 21.15*datum.l - 47.9*datum.r", "as": "y"}],
           "mark": {"type": "text", "font": "Liberation Serif", "fontSize": 26, "align": "center", "baseline": "alphabetic", "color": "#000"},
           "encoding": {"x": {"field": "x", "type": "quantitative", "scale": {"domain": [0, 1207], "nice": false, "zero": false}, "axis": null},
                        "y": {"field": "y", "type": "quantitative", "scale": {"domain": [0, 400], "nice": false, "zero": false, "reverse": true}, "axis": null},
                        "text": {"field": "text"}}},
          {"data": {"values": [{"t": "E"}]},
           "mark": {"type": "text", "font": "Liberation Serif", "fontStyle": "italic", "fontSize": 30, "align": "center", "baseline": "alphabetic", "color": "#000"},
           "encoding": {"x": {"datum": 302.3, "type": "quantitative", "scale": {"domain": [0, 1207], "nice": false, "zero": false}, "axis": null},
                        "y": {"datum": 34, "type": "quantitative", "scale": {"domain": [0, 400], "nice": false, "zero": false, "reverse": true}, "axis": null},
                        "text": {"field": "t"}}}
        ]},
        {"layer": [
          {"data": {"name": "edges"},
           "transform": [
             {"calculate": "(datum.cube === 'Measured' ? 793.3 : 1060.6) + 49.6*datum.v0 - 18*datum.l0", "as": "x"},
             {"calculate": "176 - 7.9*datum.v0 - 21.15*datum.l0 - 47.9*datum.r0", "as": "y"},
             {"calculate": "(datum.cube === 'Measured' ? 793.3 : 1060.6) + 49.6*datum.v1 - 18*datum.l1", "as": "x2"},
             {"calculate": "176 - 7.9*datum.v1 - 21.15*datum.l1 - 47.9*datum.r1", "as": "y2"}],
           "mark": {"type": "rule", "stroke": "#222", "strokeWidth": 1},
           "encoding": {"x": {"field": "x", "type": "quantitative", "scale": {"domain": [0, 1207], "nice": false, "zero": false}, "axis": null},
                        "y": {"field": "y", "type": "quantitative", "scale": {"domain": [0, 400], "nice": false, "zero": false, "reverse": true}, "axis": null},
                        "x2": {"field": "x2"}, "y2": {"field": "y2"}}},
          {"data": {"name": "points"},
           "transform": [
             {"filter": "datum.panel === 'u'"},
             {"calculate": "(datum.cube === 'Measured' ? 793.3 : 1060.6) + 49.6*datum.v - 18*datum.l", "as": "x"},
             {"calculate": "176 - 7.9*datum.v - 21.15*datum.l - 47.9*datum.r", "as": "y"}],
           "mark": {"type": "circle", "size": 390, "opacity": 1, "stroke": "#000", "strokeOpacity": 0.2, "strokeWidth": 0.8},
           "encoding": {"x": {"field": "x", "type": "quantitative", "scale": {"domain": [0, 1207], "nice": false, "zero": false}, "axis": null},
                        "y": {"field": "y", "type": "quantitative", "scale": {"domain": [0, 400], "nice": false, "zero": false, "reverse": true}, "axis": null},
                        "color": {"field": "value", "type": "quantitative",
                                  "scale": {"type": "linear", "domain": [0.106, 0.174875, 0.24375, 0.312625, 0.3815, 0.450375, 0.51925, 0.588125, 0.657], "range": ["#000080", "#0000ff", "#0080ff", "#00ffff", "#80ff80", "#ffff00", "#ff8000", "#ff0000", "#800000"], "interpolate": "rgb"},
                                  "legend": {"title": null, "orient": "none", "direction": "horizontal", "legendX": 668.4, "legendY": 335, "gradientLength": 499, "gradientThickness": 18.3, "gradientStrokeColor": "#000", "gradientStrokeWidth": 0.8, "labelFont": "Liberation Serif", "labelFontSize": 25, "labelColor": "#000", "labelOffset": 10, "labelAlign": "center", "labelOverlap": false, "values": [0.2, 0.3, 0.4, 0.5, 0.6], "format": "~g"}}}},
          {"data": {"name": "labels"},
           "transform": [
             {"calculate": "(datum.cube === 'Measured' ? 793.3 : 1060.6) + 49.6*datum.v - 18*datum.l", "as": "x"},
             {"calculate": "176 - 7.9*datum.v - 21.15*datum.l - 47.9*datum.r", "as": "y"}],
           "mark": {"type": "text", "font": "Liberation Serif", "fontStyle": "italic", "fontSize": 25, "align": "center", "baseline": "middle", "color": "#000"},
           "encoding": {"x": {"field": "x", "type": "quantitative", "scale": {"domain": [0, 1207], "nice": false, "zero": false}, "axis": null},
                        "y": {"field": "y", "type": "quantitative", "scale": {"domain": [0, 400], "nice": false, "zero": false, "reverse": true}, "axis": null},
                        "text": {"field": "text"}}},
          {"data": {"name": "subtitles"},
           "transform": [
             {"calculate": "(datum.cube === 'Measured' ? 793.3 : 1060.6) + 49.6*datum.v - 18*datum.l", "as": "x"},
             {"calculate": "176 - 7.9*datum.v - 21.15*datum.l - 47.9*datum.r", "as": "y"}],
           "mark": {"type": "text", "font": "Liberation Serif", "fontSize": 26, "align": "center", "baseline": "alphabetic", "color": "#000"},
           "encoding": {"x": {"field": "x", "type": "quantitative", "scale": {"domain": [0, 1207], "nice": false, "zero": false}, "axis": null},
                        "y": {"field": "y", "type": "quantitative", "scale": {"domain": [0, 400], "nice": false, "zero": false, "reverse": true}, "axis": null},
                        "text": {"field": "text"}}},
          {"data": {"values": [{"t": "U"}]},
           "mark": {"type": "text", "font": "Liberation Serif", "fontStyle": "italic", "fontSize": 30, "align": "center", "baseline": "alphabetic", "color": "#000"},
           "encoding": {"x": {"datum": 903.7, "type": "quantitative", "scale": {"domain": [0, 1207], "nice": false, "zero": false}, "axis": null},
                        "y": {"datum": 34, "type": "quantitative", "scale": {"domain": [0, 400], "nice": false, "zero": false, "reverse": true}, "axis": null},
                        "text": {"field": "t"}}}
        ]}
      ]
    },
    {
      "width": 1207, "height": 390,
      "layer": [
        {"data": {"values": [{}]}, "mark": {"type": "rule", "stroke": "#000", "strokeWidth": 1},
         "encoding": {"x": {"datum": 5, "type": "quantitative", "scale": {"domain": [0, 1207], "nice": false, "zero": false}, "axis": null},
                      "x2": {"datum": 1207},
                      "y": {"datum": 5.7, "type": "quantitative", "scale": {"domain": [0, 390], "nice": false, "zero": false, "reverse": true}, "axis": null}}},
        {"data": {"values": [{}]}, "mark": {"type": "rule", "stroke": "#000", "strokeWidth": 1},
         "encoding": {"x": {"datum": 601.5, "type": "quantitative", "scale": {"domain": [0, 1207], "nice": false, "zero": false}, "axis": null},
                      "y": {"datum": 0, "type": "quantitative", "scale": {"domain": [0, 390], "nice": false, "zero": false, "reverse": true}, "axis": null},
                      "y2": {"datum": 5.7}}},
        {"data": {"name": "edges"},
         "transform": [
           {"calculate": "(datum.cube === 'Measured' ? 483.3 : 762.3) + 49.6*datum.v0 - 18*datum.l0", "as": "x"},
           {"calculate": "175.5 - 7.9*datum.v0 - 21.15*datum.l0 - 47.9*datum.r0", "as": "y"},
           {"calculate": "(datum.cube === 'Measured' ? 483.3 : 762.3) + 49.6*datum.v1 - 18*datum.l1", "as": "x2"},
           {"calculate": "175.5 - 7.9*datum.v1 - 21.15*datum.l1 - 47.9*datum.r1", "as": "y2"}],
         "mark": {"type": "rule", "stroke": "#222", "strokeWidth": 1},
         "encoding": {"x": {"field": "x", "type": "quantitative", "scale": {"domain": [0, 1207], "nice": false, "zero": false}, "axis": null},
                      "y": {"field": "y", "type": "quantitative", "scale": {"domain": [0, 390], "nice": false, "zero": false, "reverse": true}, "axis": null},
                      "x2": {"field": "x2"}, "y2": {"field": "y2"}}},
        {"data": {"name": "arrows"},
         "transform": [
           {"filter": "datum.panel === 'reps'"},
           {"calculate": "762.3 + 49.6*datum.v0 - 18*datum.l0", "as": "x"},
           {"calculate": "175.5 - 7.9*datum.v0 - 21.15*datum.l0 - 47.9*datum.r0", "as": "y"},
           {"calculate": "762.3 + 49.6*datum.v1 - 18*datum.l1", "as": "x2"},
           {"calculate": "175.5 - 7.9*datum.v1 - 21.15*datum.l1 - 47.9*datum.r1", "as": "y2"},
           {"calculate": "atan2(datum.x2 - datum.x, datum.y - datum.y2) * 180 / PI", "as": "ang"}],
         "layer": [
           {"mark": {"type": "rule", "stroke": "#000", "strokeWidth": 1.4},
            "encoding": {"x": {"field": "x", "type": "quantitative", "scale": {"domain": [0, 1207], "nice": false, "zero": false}, "axis": null},
                         "y": {"field": "y", "type": "quantitative", "scale": {"domain": [0, 390], "nice": false, "zero": false, "reverse": true}, "axis": null},
                         "x2": {"field": "x2"}, "y2": {"field": "y2"}}},
           {"mark": {"type": "point", "shape": "M0,0 L0.9,2.2 L0,1.6 L-0.9,2.2 Z", "filled": true, "color": "#000", "opacity": 1, "size": 49},
            "encoding": {"x": {"field": "x2", "type": "quantitative", "scale": {"domain": [0, 1207], "nice": false, "zero": false}, "axis": null},
                         "y": {"field": "y2", "type": "quantitative", "scale": {"domain": [0, 390], "nice": false, "zero": false, "reverse": true}, "axis": null},
                         "angle": {"field": "ang", "type": "quantitative", "scale": null}}}
         ]},
        {"data": {"name": "points"},
         "transform": [
           {"filter": "datum.panel === 'reps'"},
           {"calculate": "(datum.cube === 'Measured' ? 483.3 : 762.3) + 49.6*datum.v - 18*datum.l", "as": "x"},
           {"calculate": "175.5 - 7.9*datum.v - 21.15*datum.l - 47.9*datum.r", "as": "y"}],
         "mark": {"type": "circle", "size": 390, "opacity": 1, "stroke": "#000", "strokeOpacity": 0.2, "strokeWidth": 0.8},
         "encoding": {"x": {"field": "x", "type": "quantitative", "scale": {"domain": [0, 1207], "nice": false, "zero": false}, "axis": null},
                      "y": {"field": "y", "type": "quantitative", "scale": {"domain": [0, 390], "nice": false, "zero": false, "reverse": true}, "axis": null},
                      "color": {"field": "value", "type": "quantitative",
                                "scale": {"type": "linear", "domain": [0.299, 0.372375, 0.44575, 0.519125, 0.5925, 0.665875, 0.73925, 0.812625, 0.886], "range": ["#000080", "#0000ff", "#0080ff", "#00ffff", "#80ff80", "#ffff00", "#ff8000", "#ff0000", "#800000"], "interpolate": "rgb"},
                                "legend": {"title": null, "orient": "none", "direction": "horizontal", "legendX": 382.7, "legendY": 334.3, "gradientLength": 500, "gradientThickness": 18.3, "gradientStrokeColor": "#000", "gradientStrokeWidth": 0.8, "labelFont": "Liberation Serif", "labelFontSize": 25, "labelColor": "#000", "labelOffset": 10, "labelAlign": "center", "labelOverlap": false, "values": [0.3, 0.4, 0.5, 0.6, 0.7, 0.8], "format": "~g"}}}},
        {"data": {"name": "labels"},
         "transform": [
           {"calculate": "(datum.cube === 'Measured' ? 483.3 : 762.3) + 49.6*datum.v - 18*datum.l", "as": "x"},
           {"calculate": "175.5 - 7.9*datum.v - 21.15*datum.l - 47.9*datum.r", "as": "y"}],
         "mark": {"type": "text", "font": "Liberation Serif", "fontStyle": "italic", "fontSize": 25, "align": "center", "baseline": "middle", "color": "#000"},
         "encoding": {"x": {"field": "x", "type": "quantitative", "scale": {"domain": [0, 1207], "nice": false, "zero": false}, "axis": null},
                      "y": {"field": "y", "type": "quantitative", "scale": {"domain": [0, 390], "nice": false, "zero": false, "reverse": true}, "axis": null},
                      "text": {"field": "text"}}},
        {"data": {"name": "subtitles"},
         "transform": [
           {"calculate": "(datum.cube === 'Measured' ? 483.3 : 762.3) + 49.6*datum.v - 18*datum.l", "as": "x"},
           {"calculate": "175.5 - 7.9*datum.v - 21.15*datum.l - 47.9*datum.r", "as": "y"}],
         "mark": {"type": "text", "font": "Liberation Serif", "fontSize": 26, "align": "center", "baseline": "alphabetic", "color": "#000"},
         "encoding": {"x": {"field": "x", "type": "quantitative", "scale": {"domain": [0, 1207], "nice": false, "zero": false}, "axis": null},
                      "y": {"field": "y", "type": "quantitative", "scale": {"domain": [0, 390], "nice": false, "zero": false, "reverse": true}, "axis": null},
                      "text": {"field": "text"}}},
        {"data": {"values": [{"t": "R"}]},
         "mark": {"type": "text", "font": "Liberation Serif", "fontStyle": "italic", "fontSize": 30, "align": "right", "baseline": "alphabetic", "color": "#000"},
         "encoding": {"x": {"datum": 611, "type": "quantitative", "scale": {"domain": [0, 1207], "nice": false, "zero": false}, "axis": null},
                      "y": {"datum": 34.5, "type": "quantitative", "scale": {"domain": [0, 390], "nice": false, "zero": false, "reverse": true}, "axis": null},
                      "text": {"field": "t"}}},
        {"data": {"values": [{"t": "ε"}]},
         "mark": {"type": "text", "font": "Liberation Serif", "fontStyle": "italic", "fontSize": 21, "align": "left", "baseline": "alphabetic", "color": "#000"},
         "encoding": {"x": {"datum": 610.5, "type": "quantitative", "scale": {"domain": [0, 1207], "nice": false, "zero": false}, "axis": null},
                      "y": {"datum": 37.5, "type": "quantitative", "scale": {"domain": [0, 390], "nice": false, "zero": false, "reverse": true}, "axis": null},
                      "text": {"field": "t"}}}
      ]
    }
  ]
}
